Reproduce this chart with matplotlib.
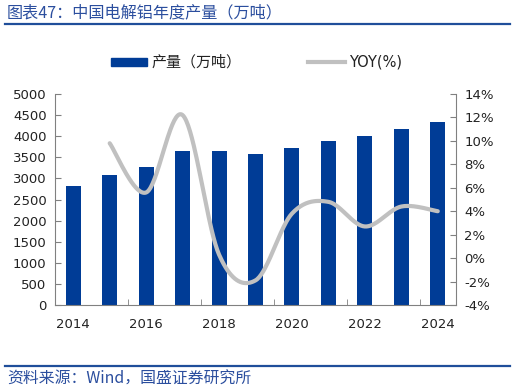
import numpy as np
import matplotlib.pyplot as plt
from matplotlib.lines import Line2D
from matplotlib.patches import Rectangle

# data
years = [2014, 2015, 2016, 2017, 2018, 2019, 2020, 2021, 2022, 2023, 2024]
output = [2820, 3080, 3260, 3650, 3650, 3580, 3710, 3890, 4000, 4170, 4330]
yoy_years = [2015, 2016, 2017, 2018, 2019, 2020, 2021, 2022, 2023, 2024]
yoy = [9.8, 5.6, 12.2, 0.3, -1.9, 3.8, 4.8, 2.7, 4.4, 4.0]

BLUE = '#003C96'
GREY = '#C0C0C0'
TXT = '#222222'
CJK = ['Noto Sans CJK SC', 'DejaVu Sans']


def smooth(xs, ys, n=40):
    # excel-like smoothed line (catmull-rom bezier)
    xs = np.asarray(xs, float)
    ys = np.asarray(ys, float)
    px = np.concatenate([[xs[0]], xs, [xs[-1]]])
    py = np.concatenate([[ys[0]], ys, [ys[-1]]])
    outx, outy = [], []
    t = np.linspace(0, 1, n)
    for i in range(1, len(px) - 2):
        p0 = np.array([px[i], py[i]])
        p3 = np.array([px[i + 1], py[i + 1]])
        c1 = p0 + (np.array([px[i + 1], py[i + 1]]) - np.array([px[i - 1], py[i - 1]])) / 6
        c2 = p3 - (np.array([px[i + 2], py[i + 2]]) - np.array([px[i], py[i]])) / 6
        b = ((1 - t) ** 3)[:, None] * p0 + (3 * (1 - t) ** 2 * t)[:, None] * c1 \
            + (3 * (1 - t) * t ** 2)[:, None] * c2 + (t ** 3)[:, None] * p3
        outx.extend(b[:, 0])
        outy.extend(b[:, 1])
    return outx, outy


fig = plt.figure(figsize=(5.15, 3.92), dpi=100)
W, H = 515, 392

ax = fig.add_axes([55 / W, (H - 305) / H, 401 / W, 211 / H])
x = np.arange(len(years))
ax.bar(x, output, width=0.41, color=BLUE, zorder=2)
ax.set_xlim(-0.5, len(years) - 0.5)
ax.set_ylim(0, 5000)
ax.set_yticks(range(0, 5001, 500))
ax.tick_params(axis='y', direction='in', length=4, labelsize=9.5, color='#808080',
               labelcolor=TXT, pad=6)

ax.set_xticks(x[::2])
ax.set_xticklabels([str(y) for y in years[::2]])
ax.set_xticks(np.arange(1.5, len(years) - 1, 2), minor=True)
ax.tick_params(axis='x', which='major', length=0, labelsize=9.5, colors=TXT, pad=9)
ax.tick_params(axis='x', which='minor', direction='in', length=4, color='#808080')
for s in ['top', 'right']:
    ax.spines[s].set_visible(False)
for s in ['left', 'bottom']:
    ax.spines[s].set_color('#808080')

ax2 = ax.twinx()
yx = [years.index(y) for y in yoy_years]
sx, sy = smooth(yx, yoy)
ax2.plot(sx, sy, color=GREY, lw=3, solid_capstyle='round', zorder=3)
ax2.set_ylim(-4, 14)
ax2.set_yticks(range(-4, 15, 2))
ax2.set_yticklabels([f'{v}%' for v in range(-4, 15, 2)])
ax2.tick_params(axis='y', direction='in', length=4, labelsize=9.5, color='#808080',
                labelcolor=TXT, pad=6)
for s in ['top', 'left', 'bottom']:
    ax2.spines[s].set_visible(False)
ax2.spines['right'].set_color('#808080')

# title and rules
fig.text(7 / W, 1 - 13 / H, '图表47：中国电解铝年度产量（万吨）', family=CJK,
         fontsize=11.6, color='#2B4E9E', style='italic', va='center', ha='left')
fig.add_artist(Line2D([5 / W, 510 / W], [1 - 24 / H, 1 - 24 / H], color='#1F4E9A', lw=1.6))
fig.add_artist(Line2D([5 / W, 510 / W], [1 - 366 / H, 1 - 366 / H], color='#1F4E9A', lw=1.6))
fig.text(7 / W, 1 - 379 / H, '资料来源：Wind，国盛证券研究所', family=CJK,
         fontsize=11.4, color='#2B4E9E', style='italic', va='center', ha='left')

# legend
fig.add_artist(Rectangle((111 / W, 1 - 66 / H), 36 / W, 8 / H, color=BLUE,
                         transform=fig.transFigure))
fig.text(152 / W, 1 - 62 / H, '产量（万吨）', family=CJK, fontsize=10.8,
         color=TXT, va='center', ha='left')
fig.add_artist(Line2D([308 / W, 345 / W], [1 - 62 / H, 1 - 62 / H], color=GREY, lw=3))
fig.text(349 / W, 1 - 62 / H, 'YOY(%)', fontsize=10.5, color=TXT, va='center', ha='left')

fig.savefig('out.png', dpi=100)
